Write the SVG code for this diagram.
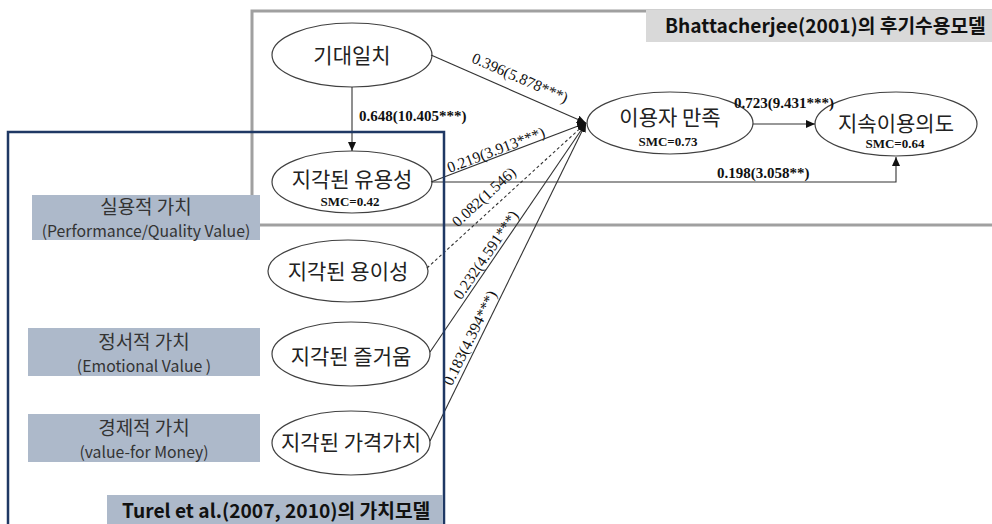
<svg xmlns="http://www.w3.org/2000/svg" width="992" height="524" viewBox="0 0 992 524">
<defs>
<marker id="arr" markerUnits="userSpaceOnUse" markerWidth="10" markerHeight="8" refX="9" refY="4" orient="auto">
<path d="M0,0 L9,4 L0,8 Z" fill="#111"/>
</marker>
<style>
.kor{font-family:"Noto Sans CJK KR","Noto Sans",sans-serif;fill:#222;}
.node{font-size:21px;text-anchor:middle;}
.ell{fill:#fff;stroke:#404040;stroke-width:1.2;}
.smc{font-family:"Liberation Serif",serif;font-weight:bold;font-size:13px;text-anchor:middle;fill:#111;}
.lab{font-family:"Liberation Serif",serif;font-size:15.5px;text-anchor:middle;fill:#111;}
.blab{font-family:"Liberation Serif",serif;font-weight:bold;font-size:15px;fill:#111;}
.con{fill:none;stroke:#333;stroke-width:1.1;}
.vbox{fill:#adb9ca;}
.vk{font-family:"Noto Sans CJK KR","Noto Sans",sans-serif;font-size:19px;text-anchor:middle;fill:#333;}
.ve{font-family:"Noto Sans CJK KR","Noto Sans",sans-serif;font-size:15.8px;text-anchor:middle;fill:#333;}
.title{font-family:"Noto Sans CJK KR","Noto Sans",sans-serif;font-weight:bold;font-size:19.2px;fill:#111;}
</style>
</defs>

<!-- Bhattacherjee frame -->
<g id="frame-bhattacherjee">
<rect x="252" y="11" width="760" height="214" fill="none" stroke="#a0a0a0" stroke-width="3"/>
<rect x="646" y="10" width="350" height="32" fill="#d9d9d9"/>
<text class="title" x="665" y="33">Bhattacherjee(2001)의 후기수용모델</text>
</g>

<!-- value boxes -->
<g id="box-practical">
<rect class="vbox" x="32" y="195" width="228" height="45"/>
<text class="vk" x="146" y="214">실용적 가치</text>
<text class="ve" x="146" y="236.5">(Performance/Quality Value)</text>
</g>
<g id="box-emotional">
<rect class="vbox" x="28" y="328" width="232" height="48"/>
<text class="vk" x="144" y="349">정서적 가치</text>
<text class="ve" x="144" y="371.5">(Emotional Value )</text>
</g>
<g id="box-economic">
<rect class="vbox" x="28" y="414" width="232" height="48"/>
<text class="vk" x="144" y="435">경제적 가치</text>
<text class="ve" x="144" y="457.5">(value-for Money)</text>
</g>

<!-- nodes -->
<g id="n-expect">
<ellipse class="ell" cx="352" cy="55" rx="80" ry="32"/>
<text class="kor node" x="352" y="63">기대일치</text>
</g>
<g id="n-useful">
<ellipse class="ell" cx="352" cy="182" rx="80" ry="31"/>
<text class="kor node" x="352" y="187">지각된 유용성</text>
<text class="smc" x="350" y="206">SMC=0.42</text>
</g>
<g id="n-ease">
<ellipse class="ell" cx="348" cy="271" rx="80" ry="31"/>
<text class="kor node" x="348" y="279">지각된 용이성</text>
</g>
<g id="n-enjoy">
<ellipse class="ell" cx="351" cy="354" rx="79" ry="32"/>
<text class="kor node" x="351" y="364">지각된 즐거움</text>
</g>
<g id="n-price">
<ellipse class="ell" cx="351" cy="443" rx="79" ry="32"/>
<text class="kor node" x="351" y="450">지각된 가격가치</text>
</g>
<g id="n-satisfy">
<ellipse class="ell" cx="670" cy="123" rx="83" ry="31"/>
<text class="kor node" x="670" y="125">이용자 만족</text>
<text class="smc" x="668" y="146">SMC=0.73</text>
</g>
<g id="n-continue">
<ellipse class="ell" cx="896" cy="124" rx="81" ry="32"/>
<text class="kor node" x="896" y="131">지속이용의도</text>
<text class="smc" x="895" y="148">SMC=0.64</text>
</g>

<!-- connectors -->
<g id="connectors">
<path class="con" d="M352 87 V151" marker-end="url(#arr)"/>
<path class="con" d="M431 55 L586 123" marker-end="url(#arr)"/>
<path class="con" d="M431 182 L586 123" marker-end="url(#arr)"/>
<path class="con" d="M427 268 L586 123" stroke-dasharray="3,2.5" marker-end="url(#arr)"/>
<path class="con" d="M430 352 L586 123" marker-end="url(#arr)"/>
<path class="con" d="M430 441 L586 123" marker-end="url(#arr)"/>
<path class="con" d="M753 124 H815" marker-end="url(#arr)"/>
<path class="con" d="M432 182 H896 V157" stroke="#555" marker-end="url(#arr)"/>
<text class="blab" x="359" y="121">0.648(10.405***)</text>
<text class="blab" x="734" y="108">0.723(9.431***)</text>
<text class="blab" x="717" y="178">0.198(3.058**)</text>
<text class="lab" transform="translate(520,78) rotate(23.6)" y="5">0.396(5.878***)</text>
<text class="lab" transform="translate(496,150) rotate(-20.8)" y="5">0.219(3.913***)</text>
<text class="lab" transform="translate(484,197) rotate(-42.4)" y="5">0.082(1.546)</text>
<text class="lab" transform="translate(486,255) rotate(-55.7)" y="5">0.232(4.591***)</text>
<text class="lab" transform="translate(470,338) rotate(-63.9)" y="5">0.183(4.394***)</text>
</g>

<!-- Turel frame -->
<g id="frame-turel">
<rect x="8" y="132" width="436" height="410" fill="none" stroke="#1f3864" stroke-width="2.5"/>
<rect x="107" y="495" width="336" height="35" fill="#adb9ca"/>
<text class="title" x="122" y="518">Turel et al.(2007, 2010)의 가치모델</text>
</g>
</svg>
